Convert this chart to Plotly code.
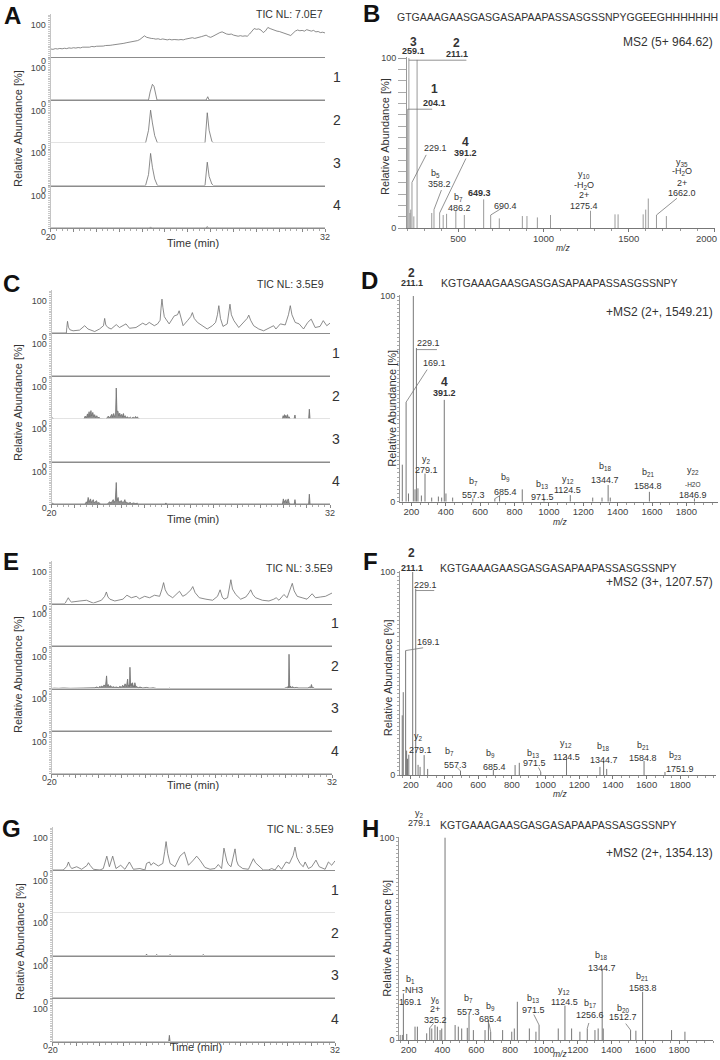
import plotly.graph_objects as go

FONT = "Liberation Sans, Arial, Helvetica, sans-serif"
TXT = "#333333"

# ======================= DATA =======================
TIME_TICKS = list(range(20, 33))
TIME_TEXT = ["20"] + [""] * 11 + ["32"]

# ---- Panel A chromatograms (time [min], relative abundance [%]) ----
A_tic = [(20.0,22),(20.1,21),(20.2,23),(20.3,22),(20.4,23.5),(20.5,22.5),(20.6,24),(20.7,23),(20.8,25),(20.9,24),
         (21.0,25.5),(21.1,24.5),(21.2,26),(21.3,25),(21.4,27),(21.5,26.5),(21.6,28),(21.7,27),(21.8,29),(21.9,28),
         (22.0,29.5),(22.1,29),(22.2,30.5),(22.3,30),(22.4,31.5),(22.5,31),(22.6,32),(22.7,33),(22.8,33.5),(22.9,35),
         (23.0,36),(23.1,36.5),(23.2,37.5),(23.3,39),(23.4,40),(23.5,41.5),(23.6,43),(23.7,42.5),(23.8,45),(23.9,48),
         (24.0,53),(24.1,58),(24.2,54),(24.3,52),(24.4,51),(24.5,50.5),(24.6,49),(24.7,50),(24.8,48),(24.9,49.5),
         (25.0,48),(25.1,47),(25.2,48.5),(25.3,47),(25.4,48),(25.5,46.5),(25.6,47),(25.7,48),(25.8,47),(25.9,49),
         (26.0,50),(26.1,51.5),(26.2,53),(26.3,51),(26.4,52),(26.5,54),(26.6,56),(26.7,58),(26.8,60),(26.9,56),
         (27.0,54),(27.1,57),(27.2,61),(27.3,64),(27.4,67),(27.5,69),(27.6,65),(27.7,63),(27.8,62),(27.9,63),
         (28.0,60),(28.1,59),(28.2,57),(28.3,58.5),(28.4,57),(28.5,58),(28.6,57),(28.7,63),(28.8,72),(28.9,78),
         (29.0,76),(29.1,77),(29.2,74),(29.3,67),(29.4,72),(29.5,81),(29.6,78),(29.7,75),(29.8,73),(29.9,71),
         (30.0,70),(30.1,68),(30.2,66),(30.3,63),(30.4,60),(30.5,59),(30.6,65),(30.7,71),(30.8,74),(30.9,72),
         (31.0,73),(31.1,71),(31.2,75),(31.3,72),(31.4,71),(31.5,73),(31.6,69),(31.7,70),(31.8,67),(31.9,68),(32.0,66)]
A_r1 = [(20,0),(24.28,0),(24.35,22),(24.40,36),(24.45,43),(24.52,37),(24.58,15),(24.65,0),(26.80,0),(26.87,9),(26.93,0),(32,0)]
A_r2 = [(20,0),(24.15,0),(24.28,35),(24.37,90),(24.45,55),(24.55,20),(24.67,0),(26.75,0),(26.85,83),(26.93,35),(27.05,5),(27.12,0),(32,0)]
A_r3 = [(20,0),(24.15,0),(24.28,30),(24.37,88),(24.45,50),(24.55,18),(24.67,0),(26.75,0),(26.85,64),(26.93,25),(27.05,4),(27.12,0),(32,0)]
A_r4 = [(20,0),(24.33,0),(24.37,3),(24.41,0),(26.81,0),(26.85,4),(26.89,0),(32,0)]

# ---- Panel C ----
C_tic = [(20.00,0),(20.64,0),(20.66,15),(20.69,32),(20.73,16),(20.79,9),(20.93,6),(21.21,8),(21.43,20),(21.57,11),
         (21.86,4),(22.07,11),(22.24,20),(22.29,40),(22.34,22),(22.43,15),(22.57,11),(22.79,23),(22.93,15),(23.21,25),
         (23.36,13),(23.64,15),(23.93,27),(24.07,22),(24.21,29),(24.43,20),(24.57,25),(24.68,35),(24.72,68),(24.76,93),
         (24.80,70),(24.86,45),(24.93,38),(25.07,25),(25.29,47),(25.43,50),(25.50,61),(25.58,38),(25.67,20),(25.86,34),
         (26.00,45),(26.07,56),(26.15,40),(26.29,29),(26.50,20),(26.71,11),(26.93,20),(27.07,29),(27.15,50),(27.21,75),
         (27.28,40),(27.39,18),(27.57,25),(27.64,55),(27.69,79),(27.75,50),(27.86,34),(28.07,15),(28.29,29),(28.43,40),
         (28.50,49),(28.58,35),(28.71,20),(28.93,11),(29.14,6),(29.36,13),(29.57,20),(29.67,11),(29.86,25),(30.07,22),
         (30.21,50),(30.29,75),(30.36,50),(30.50,29),(30.67,25),(30.86,11),(31.04,29),(31.19,38),(31.36,15),(31.57,18),
         (31.71,34),(31.86,20),(32.00,27)]
C_r1 = [(20,0),(32,0)]
C_r2 = [(20,0),(20.05,3),(20.1,0),(20.4,1),(20.5,0),(21.4,0),(21.45,8),(21.5,3),(21.55,14),(21.58,5),(21.62,20),
        (21.65,6),(21.7,23),(21.73,8),(21.78,18),(21.82,6),(21.86,12),(21.9,4),(21.95,9),(22.0,3),(22.05,5),(22.1,1),
        (22.2,0),(22.35,0),(22.4,4),(22.45,8),(22.5,3),(22.55,9),(22.6,13),(22.63,5),(22.68,15),(22.72,6),(22.76,10),
        (22.79,85),(22.82,20),(22.86,22),(22.9,8),(22.94,16),(22.98,7),(23.03,13),(23.07,5),(23.1,15),(23.13,6),
        (23.18,9),(23.22,3),(23.28,6),(23.33,2),(23.4,5),(23.45,2),(23.52,5),(23.57,2),(23.62,7),(23.66,3),(23.7,6),
        (23.75,1),(23.82,0),(24.9,0),(24.93,2),(24.96,0),(29.95,0),(29.98,9),(30.01,4),(30.04,12),(30.07,5),(30.1,10),
        (30.13,3),(30.17,12),(30.2,4),(30.24,6),(30.28,0),(30.45,0),(30.49,11),(30.52,0),(31.08,0),(31.11,27),(31.14,0),(32,0)]
C_r3 = [(20,0),(32,0)]
C_r4 = [(20,0),(20.05,2),(20.1,0),(21.45,0),(21.5,6),(21.54,2),(21.58,18),(21.62,5),(21.68,14),(21.72,4),(21.8,12),
        (21.84,3),(21.9,7),(21.94,9),(21.98,2),(22.05,4),(22.1,0),(22.4,0),(22.45,3),(22.52,6),(22.56,2),(22.62,8),
        (22.66,12),(22.7,4),(22.75,10),(22.79,59),(22.82,8),(22.87,18),(22.9,5),(22.95,7),(23.02,9),(23.06,3),(23.12,6),
        (23.16,12),(23.2,3),(23.23,5),(23.3,2),(23.4,4),(23.45,1),(23.55,3),(23.6,1),(23.7,2),(23.75,0),(24.9,0),
        (24.93,3),(24.96,0),(29.95,0),(29.99,14),(30.02,4),(30.06,9),(30.1,12),(30.13,3),(30.17,8),(30.2,14),(30.24,3),
        (30.28,0),(30.46,0),(30.49,12),(30.52,0),(31.08,0),(31.11,27),(31.14,0),(32,0)]

# ---- Panel E ----
E_tic = [(20.00,0),(20.57,0),(20.64,8),(20.71,16),(20.78,8),(20.85,4),(21.21,7),(21.49,9),(21.78,1),(22.13,9),
         (22.27,20),(22.34,32),(22.41,18),(22.49,12),(22.70,7),(23.05,12),(23.22,23),(23.41,16),(23.62,20),(23.76,13),
         (23.98,20),(24.19,16),(24.40,23),(24.62,20),(24.72,40),(24.79,58),(24.86,38),(24.97,25),(25.18,16),(25.40,28),
         (25.47,34),(25.61,20),(25.75,25),(25.96,38),(26.04,47),(26.14,30),(26.32,16),(26.60,12),(26.89,9),(27.10,20),
         (27.21,38),(27.30,18),(27.38,12),(27.53,16),(27.61,40),(27.67,66),(27.74,40),(27.88,25),(28.09,12),(28.31,18),
         (28.45,30),(28.52,38),(28.61,25),(28.73,16),(29.02,9),(29.30,7),(29.51,12),(29.61,16),(29.73,9),(29.94,25),
         (30.08,16),(30.22,38),(30.30,56),(30.38,35),(30.51,20),(30.72,16),(30.93,12),(31.15,27),(31.29,16),(31.50,18),
         (31.72,20),(32.00,29)]
E_r1 = [(20,0),(32,0)]
E_r2 = [(20,0),(20.1,1),(20.3,0.5),(20.5,1.5),(20.8,0.5),(21.1,1),(21.4,1.5),(21.7,1),(21.85,2),(21.92,4),(22.0,2),
        (22.07,6),(22.1,3),(22.14,7),(22.19,4),(22.24,10),(22.3,5),(22.35,35),(22.38,6),(22.42,11),(22.47,4),(22.52,8),
        (22.58,3),(22.64,5),(22.7,3),(22.78,4),(22.85,2),(22.92,6),(22.98,3),(23.04,9),(23.09,4),(23.14,13),(23.2,5),
        (23.25,26),(23.28,6),(23.31,10),(23.33,5),(23.35,59),(23.38,8),(23.41,14),(23.44,6),(23.46,16),(23.49,5),
        (23.52,8),(23.54,4),(23.56,16),(23.6,4),(23.63,6),(23.7,2),(23.78,4),(23.9,1.5),(24.06,3),(24.2,1),(24.35,2),
        (24.49,0),(25.0,0),(25.03,1.5),(25.06,0),(26.3,0),(26.34,1.5),(26.38,0),(29.95,0),(30.05,3),(30.09,1),(30.12,6),
        (30.14,2),(30.16,95),(30.19,3),(30.22,7),(30.26,2),(30.3,5),(30.38,2),(30.47,3),(30.58,1.5),(30.69,2),(30.8,1),
        (30.9,3),(30.97,1.5),(31.04,4),(31.08,2),(31.12,11),(31.16,2),(31.19,3),(31.26,0),(32,0)]
E_r3 = [(20,0),(32,0)]
E_r4 = [(20,0),(32,0)]

# ---- Panel G ----
G_tic = [(20.00,0),(20.45,0),(20.60,10),(20.67,22),(20.74,10),(20.81,4),(21.02,9),(21.23,2),(21.45,12),(21.52,20),
         (21.60,12),(21.73,2),(22.01,0),(22.15,4),(22.30,38),(22.41,9),(22.55,38),(22.69,4),(22.89,13),(23.07,2),
         (23.26,22),(23.43,2),(23.71,4),(23.92,0),(23.99,18),(24.11,22),(24.18,13),(24.28,20),(24.49,11),(24.68,18),
         (24.76,50),(24.82,78),(24.89,45),(24.99,18),(25.20,9),(25.41,38),(25.60,49),(25.77,13),(25.95,25),(26.12,38),
         (26.26,27),(26.47,7),(26.69,2),(26.90,4),(27.04,15),(27.18,4),(27.28,60),(27.40,25),(27.47,15),(27.58,9),
         (27.75,58),(27.82,25),(27.89,13),(28.08,4),(28.32,2),(28.46,22),(28.53,31),(28.62,20),(28.74,13),(28.95,0),
         (29.17,0),(29.31,4),(29.45,0),(29.59,13),(29.73,2),(29.92,22),(30.06,18),(30.22,40),(30.30,63),(30.38,35),
         (30.51,18),(30.65,9),(30.73,22),(30.87,4),(31.01,9),(31.19,27),(31.33,9),(31.58,2),(31.72,22),(31.86,13),(32.00,25)]
G_r1 = [(20,0),(32,0)]
G_r2 = [(20,0),(23.96,0),(23.99,4),(24.02,0),(24.39,0),(24.42,3),(24.45,0),(24.67,0),(24.70,2),(24.73,0),(24.96,0),
        (24.99,3),(25.02,0),(26.37,0),(26.40,3),(26.43,0),(28.78,0),(28.81,2),(28.84,0),(32,0)]
G_r3 = [(20,0),(27.79,0),(27.82,2),(27.85,0),(32,0)]
G_r4 = [(20,0),(24.93,0),(24.96,17),(24.99,0),(32,0)]

# ---- MS2 spectra (m/z, relative abundance [%]) ----
B_mz = [204.1, 211.1, 217, 222, 229.1, 240, 259.1, 345, 358.2, 391.2, 412, 432, 486.2, 536, 649.3, 690.4, 741,
        876, 903, 964, 1041, 1275.4, 1419, 1437, 1584, 1599, 1614, 1662.0, 1720]
B_int = [70, 100, 9, 11, 27, 7, 99, 9, 11, 9, 7.8, 8.5, 10.3, 7.8, 17, 7.8, 5.8,
         7.2, 7.2, 6.4, 7.8, 10.3, 8.2, 8.2, 8.2, 11, 17.5, 7.8, 7.2]
D_mz = [147, 169.1, 183, 211.1, 221, 229.1, 238, 258, 279.1, 318, 357, 376, 391.2, 401, 440, 557.3, 685.4, 713,
        845, 971.5, 1124.5, 1255, 1309, 1344.7, 1357, 1584.8, 1846.9]
D_int = [18, 48.4, 4, 100, 6, 74.7, 6.5, 3, 13.7, 2, 2.5, 2, 49.5, 4, 2, 1.6, 1.5, 3,
         6, 1.5, 3.2, 2, 2, 8.1, 2, 4.8, 1.6]
F_mz = [149, 155, 169.1, 175, 180, 188, 211.1, 229.1, 243, 255, 279.1, 300, 495, 690, 819, 844, 971.5, 1124.5,
        1323, 1344.7, 1363, 1584.8, 1709]
F_int = [29.4, 40.8, 61.3, 12, 8, 10, 100, 91.8, 5, 4, 9.8, 3, 2, 2.5, 4.9, 6, 1.5, 9.8,
         4, 6.9, 3, 6.9, 1.5]
H_mz = [150, 163, 169.1, 189, 238, 252, 307, 325.2, 337, 356, 370, 386, 396, 415.5, 475, 494, 514, 547, 557.3,
        583, 652, 672, 685.4, 756, 810, 825, 843, 914, 953, 971.5, 1085, 1124.5, 1164, 1213, 1256.6, 1302, 1321,
        1344.7, 1351, 1512.7, 1544, 1583.8, 1755, 1834]
H_int = [2.5, 2.5, 23, 3, 6.6, 6.6, 3.3, 6, 5.7, 7.4, 6.6, 4.9, 5.7, 100, 7.4, 6.6, 5.7, 6, 12.3,
         4.9, 4.9, 9.8, 4, 4.9, 4.1, 5.7, 18.9, 5.7, 4.1, 7.4, 5.7, 17, 5.7, 4.1, 5.7, 4.9, 5.7,
         35.2, 5.7, 4.9, 4.6, 23.8, 4.9, 4.1]

B_TICKS = [500, 1000, 1500, 2000]
B_TICKTEXT = ["500", "1000", "1500", ""]   # last label drawn inside the figure edge below
K_TICKS = [200, 400, 600, 800, 1000, 1200, 1400, 1600, 1800]
K_TICKTEXT = [str(v) for v in K_TICKS]

SEQ_B = "GTGAAAGAASGASGASAPAAPASSASGSSNPYGGEEGHHHHHHH"
SEQ_K = "KGTGAAAGAASGASGASAPAAPASSASGSSNPY"

# ======================= LAYOUT =======================
W, H = 720, 1060
def fx(px): return px / W
def fy(py): return 1 - py / H

layout = dict(width=W, height=H, margin=dict(l=0, r=0, t=0, b=0, pad=0), paper_bgcolor="white",
              plot_bgcolor="white", showlegend=False, hovermode=False, autosize=False,
              font=dict(family=FONT, color=TXT))
traces, anns = [], []
axn = [0]

def add_axes(xdom, ydom, xcfg, ycfg):
    axn[0] += 1
    s = "" if axn[0] == 1 else str(axn[0])
    layout["xaxis" + s] = dict(domain=xdom, anchor="y" + s, automargin=False, **xcfg)
    layout["yaxis" + s] = dict(domain=ydom, anchor="x" + s, automargin=False, **ycfg)
    return "x" + s, "y" + s

def label(text, px, py, size=9, xanchor="center", angle=0, color=TXT):
    anns.append(dict(text=text, x=fx(px), y=fy(py), xref="paper", yref="paper", xanchor=xanchor,
                     yanchor="middle", showarrow=False, textangle=angle,
                     font=dict(size=size, color=color, family=FONT)))

def chrom_panel(g, series, fills):
    nrow = len(g["base"])
    for r, base in enumerate(g["base"]):
        xcfg = dict(range=[20, 32], showline=True, linecolor="#8c8c8c", linewidth=1, showgrid=False,
                    zeroline=False, fixedrange=True)
        if r == nrow - 1:
            xcfg.update(tickmode="array", tickvals=TIME_TICKS, ticktext=TIME_TEXT, ticks="outside", ticklen=3,
                        tickcolor="#888", tickfont=dict(size=9, color="#444"), ticklabelstandoff=-3,
                        minor=dict(tick0=20, dtick=0.25, ticks="outside", ticklen=2, tickcolor="#aaa"))
        else:
            xcfg.update(showticklabels=False, ticks="")
        ycfg = dict(range=[0, 118], showline=True, linecolor="#c4c4c4", linewidth=1, showgrid=False,
                    zeroline=False, fixedrange=True, tickmode="array", tickvals=[0, 100], ticktext=["0", "100"],
                    ticks="outside", ticklen=2, tickcolor="#aaa", tickfont=dict(size=9, color="#444"),
                    ticklabelshift=4,
                    minor=dict(tick0=0, dtick=5, ticks="outside", ticklen=2, tickcolor="#c8c8c8"))
        xa, ya = add_axes([fx(g["x0"]), fx(g["x1"])], [fy(base), fy(base - g["h"])], xcfg, ycfg)
        pts = series[r]
        t = [p[0] for p in pts]
        v = [p[1] for p in pts]
        traces.append(go.Scatter(x=t, y=v, xaxis=xa, yaxis=ya, mode="lines",
                                 line=dict(color="#6e6e6e", width=0.8),
                                 fill="tozeroy" if fills[r] else None,
                                 fillcolor="rgba(110,110,110,0.75)", hoverinfo="skip"))
        if r > 0:
            label(str(r), g["numx"], base - 23, 14)
    label(g["tic"], g["tic_xy"][0], g["tic_xy"][1], 10.5, xanchor="right")
    label("Relative Abundance [%]", g["ylab"][0], g["ylab"][1], 11, angle=-90)
    label("Time (min)", g["time"][0], g["time"][1], 11)
    label("<b>%s</b>" % g["letter"], g["lxy"][0], g["lxy"][1], 24, color="#111")

def spec_panel(g, mz, inten, color):
    xcfg = dict(range=g["xr"], showline=True, linecolor="#777", linewidth=1, showgrid=False, zeroline=False,
                fixedrange=True, tickmode="array", tickvals=g["xt"], ticktext=g["xtt"], ticks="outside",
                ticklen=3, tickcolor="#777", tickfont=dict(size=9.5, color="#444"), ticklabelstandoff=-2,
                minor=dict(tick0=0, dtick=g["xminor"], ticks="outside", ticklen=2, tickcolor="#999"))
    ycfg = dict(range=[0, 100.5], showline=True, linecolor="#999", linewidth=1, showgrid=False, zeroline=False,
                fixedrange=True, tickmode="array", tickvals=[0, 100], ticktext=["0", "100"], ticks="outside",
                ticklen=g["ytl"], tickcolor="#999", tickfont=dict(size=9, color="#444"),
                minor=dict(tick0=0, dtick=g["yminor"], ticks="outside", ticklen=g["ytl"], tickcolor="#aaa"))
    xa, ya = add_axes([fx(g["x0"]), fx(g["x1"])], [fy(g["y0"]), fy(g["y100"])], xcfg, ycfg)
    xs, ys = [], []
    for m, i in zip(mz, inten):
        xs += [m, m, None]
        ys += [0, i, None]
    traces.append(go.Scatter(x=xs, y=ys, xaxis=xa, yaxis=ya, mode="lines",
                             line=dict(color=color, width=1), hoverinfo="skip"))
    lookup = dict(zip(mz, inten))
    for m, frac, ax, ay in g["leaders"]:
        anns.append(dict(x=m, y=lookup[m] * frac, xref=xa, yref=ya, ax=ax, ay=ay, axref="pixel",
                         ayref="pixel", showarrow=True, arrowhead=0, arrowwidth=0.8, arrowcolor="#777",
                         text="", standoff=0, startstandoff=0))
    for text, px, py, size in g["labels"]:
        label(text, px, py, size)
    label(g["seq"], g["seq_xy"][0], g["seq_xy"][1], 10.5)
    label(g["ms2"], 715, g["ms2_y"], 12, xanchor="right")
    label("Relative Abundance [%]", g["ylab"][0], g["ylab"][1], 11, angle=-90)
    label("<i>m/z</i>", g["mz_xy"][0], g["mz_xy"][1], 8.5)
    label("<b>%s</b>" % g["letter"], g["lxy"][0], g["lxy"][1], 24, color="#111")

# ---- chromatogram panels ----
chrom_panel(dict(x0=50.7, x1=325, base=[57, 100, 143, 185.5, 228], h=43, numx=337, tic="TIC NL: 7.0E7",
                 tic_xy=(325, 14), ylab=(18, 129), time=(193, 243), letter="A", lxy=(12, 15)),
            [A_tic, A_r1, A_r2, A_r3, A_r4], [False, False, False, False, False])
chrom_panel(dict(x0=51.5, x1=330, base=[333, 376, 419, 461.5, 504], h=43, numx=336, tic="TIC NL: 3.5E9",
                 tic_xy=(326, 284), ylab=(18, 403), time=(193, 519), letter="C", lxy=(11.7, 283.5)),
            [C_tic, C_r1, C_r2, C_r3, C_r4], [False, False, True, False, True])
chrom_panel(dict(x0=51.7, x1=332, base=[603.5, 646, 688.5, 731, 773.5], h=42.5, numx=335, tic="TIC NL: 3.5E9",
                 tic_xy=(335, 568), ylab=(18, 675), time=(193, 785), letter="E", lxy=(11, 561.5)),
            [E_tic, E_r1, E_r2, E_r3, E_r4], [False, False, True, False, False])
chrom_panel(dict(x0=52.7, x1=335, base=[870, 913, 955.5, 998, 1041.5], h=43, numx=335, tic="TIC NL: 3.5E9",
                 tic_xy=(336, 829), ylab=(20, 942), time=(196, 1047), letter="G", lxy=(11.7, 828.5)),
            [G_tic, G_r1, G_r2, G_r3, G_r4], [False, False, True, True, True])

# ---- spectrum panels ----
sub = lambda s: "<sub>%s</sub>" % s
B_labels = [("<b>3</b>", 413.3, 41.7, 12), ("<b>259.1</b>", 413.3, 51.5, 9),
            ("<b>2</b>", 456.7, 43.3, 12), ("<b>211.1</b>", 456.7, 54, 9),
            ("<b>1</b>", 434, 89.3, 12), ("<b>204.1</b>", 434, 103, 9),
            ("229.1", 436, 148.3, 9), ("<b>4</b>", 465, 141.7, 12), ("<b>391.2</b>", 465, 153.3, 9),
            ("b" + sub("5"), 436, 173, 9), ("358.2", 439, 184, 9),
            ("b" + sub("7"), 459, 198, 9), ("486.2", 460, 208.5, 9),
            ("<b>649.3</b>", 479, 193, 9), ("690.4", 505.5, 206.3, 9),
            ("y" + sub("10"), 584, 174.5, 9), ("-H" + sub("2") + "O", 584, 185, 9), ("2+", 584, 194.5, 9),
            ("1275.4", 584, 206.5, 9),
            ("y" + sub("35"), 681.7, 162.5, 9), ("-H" + sub("2") + "O", 681.7, 172, 9), ("2+", 681.7, 183, 9),
            ("1662.0", 681.7, 193, 9),
            ("<span style='color:#444'>2000</span>", 706, 238, 9.5)]
B_leaders = [(204.1, 1.0, 26, 0), (211.1, 0.988, 59, 0), (229.1, 1.0, 15, -29), (358.2, 1.0, 8, -21),
             (391.2, 1.0, 27, -56), (690.4, 1.0, 13, -8), (1662.0, 1.0, 22, -18)]
spec_panel(dict(x0=407, x1=715, y0=228.3, y100=57.3, xr=[200, 2005], xt=B_TICKS, xtt=B_TICKTEXT, xminor=100,
                yminor=100 / 15, ytl=8, labels=B_labels, leaders=B_leaders, seq=SEQ_B, seq_xy=(557.5, 16.7),
                ms2="MS2 (5+ 964.62)", ms2_y=41.7, ylab=(385, 137), mz_xy=(563, 248), letter="B",
                lxy=(371.5, 13)), B_mz, B_int, "#9a9a9a")

D_labels = [("<b>2</b>", 411.7, 273.3, 12), ("<b>211.1</b>", 411.7, 283.3, 9),
            ("229.1", 428.3, 342.7, 9), ("169.1", 434, 362.7, 9),
            ("<b>4</b>", 444, 382.3, 12), ("<b>391.2</b>", 444, 393.3, 9),
            ("y" + sub("2"), 426.7, 459.3, 9), ("279.1", 426.7, 470, 9),
            ("b" + sub("7"), 473.3, 481.7, 9), ("557.3", 473.3, 495, 9),
            ("b" + sub("9"), 505.7, 477.3, 9), ("685.4", 505.7, 492.3, 9),
            ("b" + sub("13"), 542.7, 485, 9), ("971.5", 542.7, 497.3, 9),
            ("y" + sub("12"), 567.7, 479.3, 9), ("1124.5", 567.7, 490, 9),
            ("b" + sub("18"), 605, 466, 9), ("1344.7", 605, 480, 9),
            ("b" + sub("21"), 648.3, 472.7, 9), ("1584.8", 648.3, 486, 9),
            ("y" + sub("22"), 693.3, 470.7, 9), ("-H2O", 693.3, 484.5, 6.5), ("1846.9", 693.3, 495, 9)]
D_leaders = [(229.1, 0.99, 22, 0), (169.1, 1.0, 22, -34), (685.4, 1.0, 7, -4)]
spec_panel(dict(x0=400, x1=718, y0=501.7, y100=295, xr=[133.6, 1984], xt=K_TICKS, xtt=K_TICKTEXT, xminor=50,
                yminor=2, ytl=2, labels=D_labels, leaders=D_leaders, seq=SEQ_K, seq_xy=(559, 282.7),
                ms2="+MS2 (2+, 1549.21)", ms2_y=311.7, ylab=(391.7, 408), mz_xy=(560, 522), letter="D",
                lxy=(369.5, 280.5)), D_mz, D_int, "#777777")

F_labels = [("<b>2</b>", 411.7, 553.3, 12), ("<b>211.1</b>", 411.7, 567.7, 9),
            ("229.1", 425, 585, 9), ("169.1", 428.3, 641.7, 9),
            ("y" + sub("2"), 418.3, 736.7, 9), ("279.1", 420, 750, 9),
            ("b" + sub("7"), 449.3, 751.7, 9), ("557.3", 455, 765, 9),
            ("b" + sub("9"), 490.7, 753.3, 9), ("685.4", 494.7, 766.7, 9),
            ("b" + sub("13"), 533.3, 753.3, 9), ("971.5", 534, 763.3, 9),
            ("y" + sub("12"), 566, 743.3, 9), ("1124.5", 566.7, 757.3, 9),
            ("b" + sub("18"), 603.3, 746.7, 9), ("1344.7", 604, 760, 9),
            ("b" + sub("21"), 643.3, 745, 9), ("1584.8", 643.3, 758.3, 9),
            ("b" + sub("23"), 675, 755, 9), ("1751.9", 680, 769.3, 9)]
F_leaders = [(229.1, 0.99, 20, 0), (169.1, 1.0, 19, -3), (495, 1.0, -5, -5), (971.5, 1.0, -3, -6)]
spec_panel(dict(x0=400, x1=716, y0=775, y100=571, xr=[135.7, 2012], xt=K_TICKS, xtt=K_TICKTEXT, xminor=50,
                yminor=2, ytl=2, labels=F_labels, leaders=F_leaders, seq=SEQ_K, seq_xy=(558.3, 567.7),
                ms2="+MS2 (3+, 1207.57)", ms2_y=581.7, ylab=(388.3, 678), mz_xy=(560, 794), letter="F",
                lxy=(370.5, 561.5)), F_mz, F_int, "#777777")

H_labels = [("y" + sub("2"), 419.3, 813.3, 9), ("279.1", 419.3, 823.3, 9),
            ("b" + sub("1"), 410, 979, 9), ("-NH3", 412, 990, 9), ("169.1", 410, 1001.5, 9),
            ("y" + sub("6"), 435, 999, 9), ("2+", 435, 1009, 9), ("325.2", 435, 1020, 9),
            ("b" + sub("7"), 468.3, 998.3, 9), ("557.3", 468.3, 1012.3, 9),
            ("b" + sub("9"), 490, 1006.7, 9), ("685.4", 490, 1019, 9),
            ("b" + sub("13"), 533.3, 998.3, 9), ("971.5", 533.3, 1010, 9),
            ("y" + sub("12"), 564, 990, 9), ("1124.5", 564, 1001.7, 9),
            ("b" + sub("17"), 590, 1003.3, 9), ("1256.6", 590, 1015, 9),
            ("b" + sub("18"), 601.7, 955, 9), ("1344.7", 601.7, 968.3, 9),
            ("b" + sub("21"), 642.7, 976.7, 9), ("1583.8", 642.7, 988.3, 9),
            ("b" + sub("20"), 623.3, 1008.3, 9), ("1512.7", 623.3, 1017.3, 9)]
H_leaders = [(325.2, 1.0, 5, -6), (685.4, 1.0, -2, -10), (971.5, 1.0, -6, -12), (1256.6, 1.0, 2, -7),
             (1512.7, 1.0, -6, -8)]
spec_panel(dict(x0=399.3, x1=713, y0=1040, y100=836.7, xr=[145, 2000], xt=K_TICKS, xtt=K_TICKTEXT, xminor=50,
                yminor=2, ytl=2, labels=H_labels, leaders=H_leaders, seq=SEQ_K, seq_xy=(558.3, 825),
                ms2="+MS2 (2+, 1354.13)", ms2_y=853.3, ylab=(386.7, 938), mz_xy=(560, 1054), letter="H",
                lxy=(370.5, 828.5)), H_mz, H_int, "#777777")

fig = go.Figure(data=traces, layout=layout)
fig.update_layout(annotations=anns)
fig.write_html("out.html", config={"displayModeBar": False, "staticPlot": True},
               post_script="document.documentElement.style.margin='0';document.body.style.margin='0';"
                           "document.body.style.padding='0';document.body.style.overflow='hidden';"
                           "document.documentElement.style.overflow='hidden';")
